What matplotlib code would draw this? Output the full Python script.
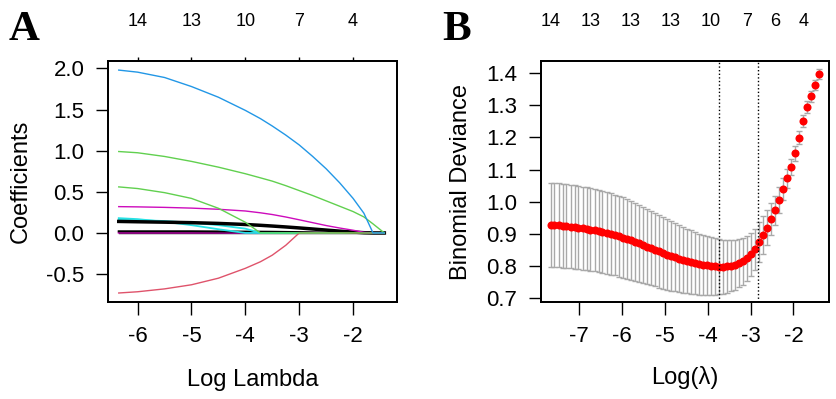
import matplotlib
matplotlib.use("Agg")
from matplotlib import pyplot as plt

plt.rcParams['font.family'] = ['Liberation Sans', 'DejaVu Sans']

# ---------------- Panel A: coefficient paths ----------------
path_x = [-6.35, -6.0, -5.5, -5.0, -4.5, -4.0, -3.72, -3.5, -3.25, -3.0,
          -2.75, -2.5, -2.25, -2.0, -1.8, -1.63, -1.42]

blue = [1.98, 1.955, 1.89, 1.78, 1.65, 1.49, 1.39, 1.30, 1.19, 1.07,
        0.93, 0.78, 0.61, 0.42, 0.24, 0.0, 0.0]
green1 = [0.99, 0.975, 0.93, 0.87, 0.80, 0.72, 0.67, 0.63, 0.575, 0.515,
          0.455, 0.39, 0.325, 0.26, 0.195, 0.11, 0.0]
green2 = [0.56, 0.54, 0.49, 0.42, 0.30, 0.13, 0.0, 0.0, 0.0, 0.0,
          0.0, 0.0, 0.0, 0.0, 0.0, 0.0, 0.0]
magenta1 = [0.32, 0.317, 0.311, 0.302, 0.288, 0.267, 0.245, 0.224, 0.194, 0.16,
            0.125, 0.09, 0.06, 0.033, 0.008, 0.0, 0.0]
red = [-0.73, -0.715, -0.68, -0.63, -0.55, -0.43, -0.35, -0.27, -0.15, 0.0,
       0.0, 0.0, 0.0, 0.0, 0.0, 0.0, 0.0]
cyan1 = [0.18, 0.168, 0.135, 0.095, 0.045, 0.0, 0.0, 0.0, 0.0, 0.0,
         0.0, 0.0, 0.0, 0.0, 0.0, 0.0, 0.0]
cyan2 = [0.16, 0.156, 0.145, 0.125, 0.095, 0.052, 0.0, 0.0, 0.0, 0.0,
         0.0, 0.0, 0.0, 0.0, 0.0, 0.0, 0.0]
black1 = [0.14, 0.136, 0.131, 0.125, 0.116, 0.103, 0.093, 0.084, 0.073, 0.061,
          0.048, 0.035, 0.022, 0.011, 0.003, 0.0, 0.0]
black2 = [0.02, 0.02, 0.02, 0.02, 0.018, 0.016, 0.015, 0.014, 0.012, 0.01,
          0.007, 0.004, 0.002, 0.0, 0.0, 0.0, 0.0]
magenta2 = [0.004, 0.004, 0.004, 0.004, 0.004, 0.003, 0.003, 0.003, 0.002, 0.002,
            0.001, 0.0, 0.0, 0.0, 0.0, 0.0, 0.0]
zero_line = [0.0] * 17

top_a_pos = [-6, -5, -4, -3, -2]
top_a_lab = ["14", "13", "10", "7", "4"]

# ---------------- Panel B: cross-validation curve ----------------
log_lambda = [-7.66, -7.57, -7.47, -7.38, -7.29, -7.19, -7.10, -7.01, -6.91, -6.82,
              -6.73, -6.63, -6.54, -6.45, -6.35, -6.26, -6.17, -6.07, -5.98, -5.89,
              -5.79, -5.70, -5.61, -5.51, -5.42, -5.32, -5.23, -5.14, -5.04, -4.95,
              -4.86, -4.76, -4.67, -4.58, -4.48, -4.39, -4.30, -4.20, -4.11, -4.02,
              -3.92, -3.83, -3.74, -3.64, -3.55, -3.46, -3.36, -3.27, -3.18, -3.08,
              -2.99, -2.90, -2.80, -2.71, -2.62, -2.52, -2.43, -2.34, -2.24, -2.15,
              -2.06, -1.96, -1.87, -1.78, -1.68, -1.59, -1.50, -1.40]
cv_mean = [0.928, 0.927, 0.926, 0.925, 0.924, 0.922, 0.921, 0.919, 0.917, 0.915,
           0.913, 0.911, 0.908, 0.905, 0.902, 0.899, 0.896, 0.892, 0.888, 0.884,
           0.879, 0.874, 0.870, 0.865, 0.860, 0.855, 0.850, 0.845, 0.840, 0.835,
           0.830, 0.826, 0.822, 0.818, 0.814, 0.811, 0.808, 0.805, 0.803, 0.801,
           0.799, 0.798, 0.797, 0.797, 0.798, 0.800, 0.803, 0.808, 0.814, 0.824,
           0.836, 0.852, 0.874, 0.896, 0.919, 0.945, 0.973, 1.005, 1.039, 1.072,
           1.108, 1.150, 1.199, 1.252, 1.294, 1.328, 1.363, 1.397]
cv_se = [0.131, 0.131, 0.131, 0.131, 0.130, 0.130, 0.130, 0.130, 0.129, 0.129,
         0.129, 0.128, 0.128, 0.128, 0.127, 0.127, 0.126, 0.126, 0.125, 0.124,
         0.122, 0.121, 0.119, 0.118, 0.117, 0.116, 0.114, 0.113, 0.111, 0.110,
         0.108, 0.106, 0.104, 0.102, 0.100, 0.099, 0.097, 0.095, 0.094, 0.092,
         0.090, 0.088, 0.086, 0.084, 0.082, 0.080, 0.078, 0.075, 0.073, 0.070,
         0.067, 0.064, 0.062, 0.058, 0.054, 0.050, 0.046, 0.040, 0.035, 0.030,
         0.026, 0.022, 0.020, 0.019, 0.018, 0.017, 0.016, 0.016]
lambda_min = -3.74
lambda_1se = -2.82

top_b_pos = [-7.66, -6.73, -5.79, -4.86, -3.92, -3.08, -2.43, -1.77]
top_b_lab = ["14", "13", "13", "13", "10", "7", "6", "4"]

tick_fs = 16
lab_fs = 17
top_fs = 13

fig = plt.figure(figsize=(8.37, 3.99), dpi=100)

# Panel A
ax1 = fig.add_axes([0.129, 0.243, 0.345, 0.604])
ax1.plot(path_x, zero_line, color="black", lw=1)
ax1.plot(path_x, magenta2, color="#CD0BBC", lw=1.5)
ax1.plot(path_x, black2, color="black", lw=1.5)
ax1.plot(path_x, cyan1, color="#28E2E5", lw=1.3)
ax1.plot(path_x, cyan2, color="#28E2E5", lw=1.3)
ax1.plot(path_x, black1, color="black", lw=2.5)
ax1.plot(path_x, red, color="#DF536B", lw=1)
ax1.plot(path_x, magenta1, color="#CD0BBC", lw=1)
ax1.plot(path_x, green2, color="#61D04F", lw=1)
ax1.plot(path_x, green1, color="#61D04F", lw=1)
ax1.plot(path_x, blue, color="#2297E6", lw=1)
ax1.set_xlim(-6.55, -1.19)
ax1.set_ylim(-0.84, 2.09)
ax1.set_xticks([-6, -5, -4, -3, -2])
ax1.set_yticks([-0.5, 0.0, 0.5, 1.0, 1.5, 2.0])
ax1.set_yticklabels(["-0.5", "0.0", "0.5", "1.0", "1.5", "2.0"])
ax1.set_xticklabels(["-6", "-5", "-4", "-3", "-2"])
ax1.tick_params(labelsize=tick_fs, length=9, width=1, pad=8)
ax1.set_xlabel("Log Lambda", fontsize=lab_fs, labelpad=16)
ax1.set_ylabel("Coefficients", fontsize=lab_fs, labelpad=10)
top1 = ax1.twiny()
top1.set_xlim(ax1.get_xlim())
top1.set_xticks(top_a_pos)
top1.set_xticklabels(top_a_lab)
top1.tick_params(labelsize=top_fs, length=3, width=1, pad=19)
for a in (ax1, top1):
    for s in a.spines.values():
        s.set_linewidth(1.3)

# Panel B
ax2 = fig.add_axes([0.646, 0.243, 0.345, 0.604])
ax2.errorbar(log_lambda, cv_mean, yerr=cv_se, fmt="none", ecolor="darkgray",
             elinewidth=1, capsize=2.2, capthick=1, zorder=2)
ax2.plot(log_lambda, cv_mean, "o", color="red", markersize=5.8,
         markeredgewidth=0, zorder=3)
ax2.axvline(lambda_min, color="black", ls=(0, (1, 1.6)), lw=1, zorder=4)
ax2.axvline(lambda_1se, color="black", ls=(0, (1, 1.6)), lw=1, zorder=4)
ax2.set_xlim(-7.89, -1.16)
ax2.set_ylim(0.687, 1.438)
ax2.set_xticks([-7, -6, -5, -4, -3, -2])
ax2.set_xticklabels(["-7", "-6", "-5", "-4", "-3", "-2"])
ax2.set_yticks([0.7, 0.8, 0.9, 1.0, 1.1, 1.2, 1.3, 1.4])
ax2.set_yticklabels(["0.7", "0.8", "0.9", "1.0", "1.1", "1.2", "1.3", "1.4"])
ax2.tick_params(labelsize=tick_fs, length=9, width=1, pad=8)
ax2.set_xlabel("Log(λ)", fontsize=lab_fs, labelpad=14)
ax2.set_ylabel("Binomial Deviance", fontsize=lab_fs, labelpad=10)
top2 = ax2.twiny()
top2.set_xlim(ax2.get_xlim())
top2.set_xticks(top_b_pos)
top2.set_xticklabels(top_b_lab)
top2.tick_params(labelsize=top_fs, length=0, pad=22)
for a in (ax2, top2):
    for s in a.spines.values():
        s.set_linewidth(1.3)

fig.text(0.010, 0.925, "A", fontsize=31, fontweight="bold",
         family="Liberation Serif", va="center")
fig.text(0.528, 0.925, "B", fontsize=31, fontweight="bold",
         family="Liberation Serif", va="center")

fig.savefig("out.png", dpi=100)
